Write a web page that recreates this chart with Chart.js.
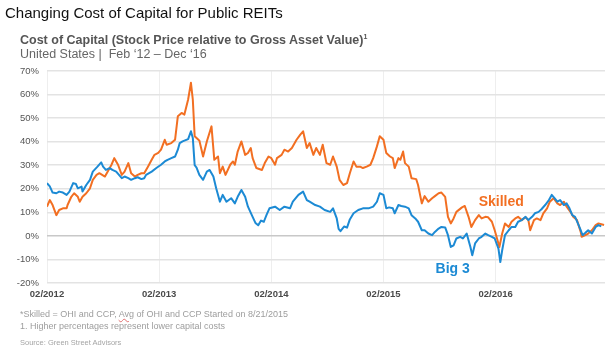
<!DOCTYPE html>
<html><head><meta charset="utf-8">
<script src="https://cdn.jsdelivr.net/npm/chart.js@4/dist/chart.umd.min.js"></script>
<style>
html,body{margin:0;padding:0;background:#fff;}
#wrap{position:relative;width:609px;height:355px;overflow:hidden;font-family:"Liberation Sans",Arial,sans-serif;}
#c{position:absolute;left:0;top:0;}
.t{position:absolute;white-space:nowrap;line-height:1;}
</style></head><body>
<div id="wrap">
<canvas id="c" width="609" height="355"></canvas>
<div class="t" style="left:5px;top:5px;font-size:15px;color:#111;">Changing Cost of Capital for Public REITs</div>
<div class="t" style="left:20px;top:34px;font-size:12.5px;font-weight:bold;color:#555;">Cost of Capital (Stock Price relative to Gross Asset Value)<span style="font-size:7px;position:relative;top:-5px;">1</span></div>
<div class="t" style="left:20px;top:48px;font-size:12.5px;color:#666;">United States |&nbsp; Feb ‘12 – Dec ‘16</div>
<div class="t" style="left:20px;top:310px;font-size:9px;color:#9d9d9d;">*Skilled = OHI and CCP, <span style="text-decoration:underline wavy #e07070;">Avg</span> of OHI and CCP Started on 8/21/2015</div>
<div class="t" style="left:20px;top:322px;font-size:9px;color:#9d9d9d;">1. Higher percentages represent lower capital costs</div>
<div class="t" style="left:20px;top:339px;font-size:7.5px;color:#a5a5a5;">Source: Green Street Advisors</div>
</div>
<script>
// x values are months since Feb 2012
const tickMonths = [0, 12, 24, 36, 48];
const tickLabels = ['02/2012', '02/2013', '02/2014', '02/2015', '02/2016'];
const seriesNames = ['Big 3', 'Skilled'];
const labelMonths = [43.4, 48.6];
const labelValues = [-14.0, 14.4];

const bigMonths = [
 0.0,0.3,0.6,1.0,1.3,1.7,2.1,2.4,2.8,3.1,
 3.3,3.7,3.8,4.2,4.6,4.9,5.4,5.8,6.0,6.3,
 6.7,7.0,7.4,8.0,8.3,8.7,9.0,9.4,9.7,10.1,
 10.4,10.6,11.2,11.7,12.2,12.6,12.9,13.3,13.7,14.0,
 14.2,14.5,15.1,15.4,15.6,15.8,16.0,16.3,16.7,17.1,
 17.4,17.8,18.1,18.5,18.8,19.2,19.7,20.1,20.4,20.8,
 21.2,21.5,22.0,22.3,22.6,22.9,23.2,23.5,23.8,24.4,
 24.9,25.4,26.0,26.3,26.9,27.4,27.8,28.1,28.7,29.2,
 29.7,30.3,30.6,31.0,31.2,31.4,31.8,32.1,32.4,32.8,
 33.3,33.8,34.4,34.9,35.3,35.6,36.0,36.3,36.6,37.0,
 37.2,37.6,37.9,38.3,38.7,39.0,39.4,39.7,40.1,40.4,
 40.8,41.2,41.5,41.9,42.2,42.6,42.9,43.2,43.5,43.8,
 44.2,44.5,44.9,45.3,45.5,45.8,46.2,46.5,46.9,47.2,
 47.6,47.9,48.3,48.5,48.7,49.0,49.4,49.7,50.1,50.4,
 50.8,51.2,51.5,51.9,52.2,52.6,52.9,53.3,53.7,54.0,
 54.3,54.6,54.9,55.3,55.6,55.9,56.2,56.5,56.8,57.1,
 57.3,57.6,57.9,58.3,58.7,59.0,59.3
];
const bigValues = [
 22.4,21.0,18.4,18.1,18.8,18.4,17.4,18.8,22.4,22.0,
 20.2,20.9,18.8,21.6,23.8,27.3,29.4,31.2,29.4,28.0,
 28.8,28.0,27.3,24.5,25.2,24.5,23.8,24.5,24.9,24.1,
 24.5,25.9,27.3,28.8,30.2,31.6,32.3,33.0,33.7,36.6,
 39.4,40.1,41.1,44.4,41.6,30.0,29.0,25.9,23.8,27.3,
 28.0,25.2,20.2,14.5,17.4,14.5,16.0,13.8,16.6,19.5,
 16.6,12.4,8.1,5.5,4.5,6.5,6.0,9.0,11.7,12.4,
 11.0,12.4,11.7,14.5,17.4,18.8,15.2,14.5,13.1,12.4,
 11.0,10.2,11.7,7.4,3.0,2.0,4.0,3.5,7.0,9.6,
 11.0,11.7,11.7,12.4,14.5,18.1,17.4,11.7,12.1,11.7,
 9.6,13.1,12.7,12.4,11.7,8.8,7.4,6.0,2.4,2.4,
 1.0,0.3,1.7,3.1,3.8,3.6,0.3,-4.7,-4.0,-1.1,
 -0.4,-1.1,1.0,-4.7,-8.2,-3.2,-1.1,-0.4,1.0,0.3,
 -0.4,-1.1,-5.4,-11.1,-6.1,0.3,2.4,3.8,3.8,6.0,
 6.7,8.1,6.7,8.1,9.6,10.2,11.3,13.1,15.2,17.4,
 16.0,14.5,15.2,13.1,13.8,11.7,8.8,8.1,5.3,2.4,
 0.3,1.3,2.4,1.0,3.8,4.6,4.0
];

const skilledMonths = [
 0.0,0.3,0.6,1.0,1.3,1.7,2.1,2.2,2.6,2.9,
 3.3,3.5,3.8,4.2,4.6,4.9,5.3,5.6,6.2,6.5,
 6.9,7.2,7.6,8.0,8.3,8.7,9.0,9.4,9.7,10.1,
 10.4,10.8,11.2,11.5,11.9,12.2,12.6,12.8,13.3,13.7,
 14.0,14.4,14.7,15.1,15.4,15.6,15.8,16.2,16.3,16.7,
 17.1,17.6,17.9,18.3,18.5,18.8,19.1,19.6,19.9,20.1,
 20.4,20.8,21.2,21.5,21.8,22.0,22.4,23.0,23.3,23.7,
 24.0,24.4,24.6,25.1,25.4,25.8,26.2,26.7,27.1,27.4,
 27.8,28.1,28.5,28.8,29.2,29.5,29.9,30.3,30.6,31.0,
 31.3,31.7,32.1,32.4,32.8,33.1,33.5,33.8,34.2,34.6,
 34.9,35.3,35.6,36.0,36.3,36.7,37.0,37.2,37.6,37.8,
 38.1,38.3,38.7,39.0,39.5,39.7,40.1,40.4,40.8,41.2,
 41.5,41.9,42.2,42.6,42.9,43.2,43.5,43.8,44.4,44.7,
 45.1,45.4,45.8,46.2,46.5,46.9,47.2,47.6,47.9,48.4,
 48.7,49.0,49.4,49.7,50.1,50.4,50.8,51.2,51.5,51.7,
 52.1,52.4,52.8,53.1,53.5,53.8,54.2,54.6,54.9,55.3,
 55.6,56.0,56.3,56.7,57.1,57.2,57.6,57.9,58.3,58.7,
 59.0,59.6
];
const skilledValues = [
 12.4,15.2,13.1,8.8,11.0,11.7,11.7,13.1,16.6,18.1,
 16.6,14.5,16.6,18.1,20.2,23.8,25.9,26.6,25.2,27.3,
 30.2,33.0,30.2,25.9,27.3,30.9,26.6,25.2,25.9,26.6,
 26.6,29.4,32.3,34.4,35.2,36.6,40.8,38.7,39.4,40.8,
 50.8,52.2,51.5,57.9,65.0,57.9,42.3,40.8,40.5,33.7,
 40.1,46.5,32.3,33.7,26.6,29.4,25.9,30.2,31.6,30.2,
 35.8,40.1,34.4,35.2,37.3,33.0,28.8,28.0,30.9,33.7,
 33.0,30.2,33.0,34.4,36.6,35.8,37.3,40.8,43.0,44.4,
 37.3,39.4,34.4,37.3,34.4,38.7,30.9,30.2,33.7,29.4,
 23.8,21.6,22.4,26.6,31.6,29.4,29.4,28.8,29.4,30.2,
 33.0,38.0,42.3,40.8,35.2,33.7,33.0,28.8,33.0,32.3,
 35.8,30.9,29.4,24.5,24.1,21.6,13.8,16.9,14.5,16.0,
 16.9,18.1,18.4,16.6,8.1,5.3,7.4,10.2,12.1,12.7,
 8.1,3.8,6.7,8.8,7.4,8.1,7.9,6.0,2.4,-4.7,
 1.0,5.3,3.8,6.0,7.4,8.1,6.7,7.9,6.7,2.4,
 6.7,7.4,6.7,9.6,11.7,14.5,16.0,13.8,13.1,14.5,
 12.4,10.2,8.1,6.7,1.7,-0.4,0.3,1.0,2.4,4.6,
 5.3,4.6
];

const colors = ['#1C8AD4', '#F26F22'];
const FONT = '"Liberation Sans", Arial, sans-serif';

const seriesLabelPlugin = {
  id: 'seriesLabels',
  afterDatasetsDraw(chart) {
    const { ctx, scales: { x, y } } = chart;
    ctx.save();
    ctx.font = 'bold 14px ' + FONT;
    ctx.textAlign = 'center';
    ctx.textBaseline = 'middle';
    seriesNames.forEach((n, i) => {
      ctx.fillStyle = colors[i];
      ctx.fillText(n, x.getPixelForValue(labelMonths[i]), y.getPixelForValue(labelValues[i]));
    });
    ctx.restore();
  }
};

const toPts = (xs, ys) => xs.map((m, i) => ({ x: m, y: ys[i] }));

new Chart(document.getElementById('c'), {
  type: 'line',
  data: {
    datasets: [
      { label: seriesNames[0], data: toPts(bigMonths, bigValues), borderColor: colors[0], borderWidth: 2, pointRadius: 0, tension: 0, fill: false, borderJoinStyle: 'round' },
      { label: seriesNames[1], data: toPts(skilledMonths, skilledValues), borderColor: colors[1], borderWidth: 2, pointRadius: 0, tension: 0, fill: false, borderJoinStyle: 'round' }
    ]
  },
  options: {
    responsive: false,
    animation: false,
    devicePixelRatio: 1,
    layout: { padding: { top: 71, right: 4, bottom: 50, left: 0 } },
    plugins: { legend: { display: false }, tooltip: { enabled: false } },
    scales: {
      x: {
        type: 'linear', min: 0, max: 59.7,
        afterBuildTicks: s => { s.ticks = tickMonths.map(v => ({ value: v })); },
        afterFit: s => { s.height = 22; },
        ticks: {
          autoSkip: false, maxRotation: 0, padding: 6,
          callback: v => { const i = tickMonths.indexOf(v); return i >= 0 ? tickLabels[i] : ''; },
          font: { family: FONT, size: 9.5, weight: 'bold' }, color: '#4a4a4a'
        },
        grid: { color: '#eeeeee', lineWidth: 1, drawTicks: false },
        border: { display: false }
      },
      y: {
        min: -20, max: 70,
        afterFit: s => { s.width = 47; },
        ticks: {
          stepSize: 10, padding: 8,
          callback: v => v + '%',
          font: { family: FONT, size: 9.5 }, color: '#555'
        },
        grid: { color: c => c.tick && c.tick.value === 0 ? '#c8c8c8' : '#e3e3e3', lineWidth: 1.5, drawTicks: false },
        border: { display: false }
      }
    }
  },
  plugins: [seriesLabelPlugin]
});
</script>
</body></html>
